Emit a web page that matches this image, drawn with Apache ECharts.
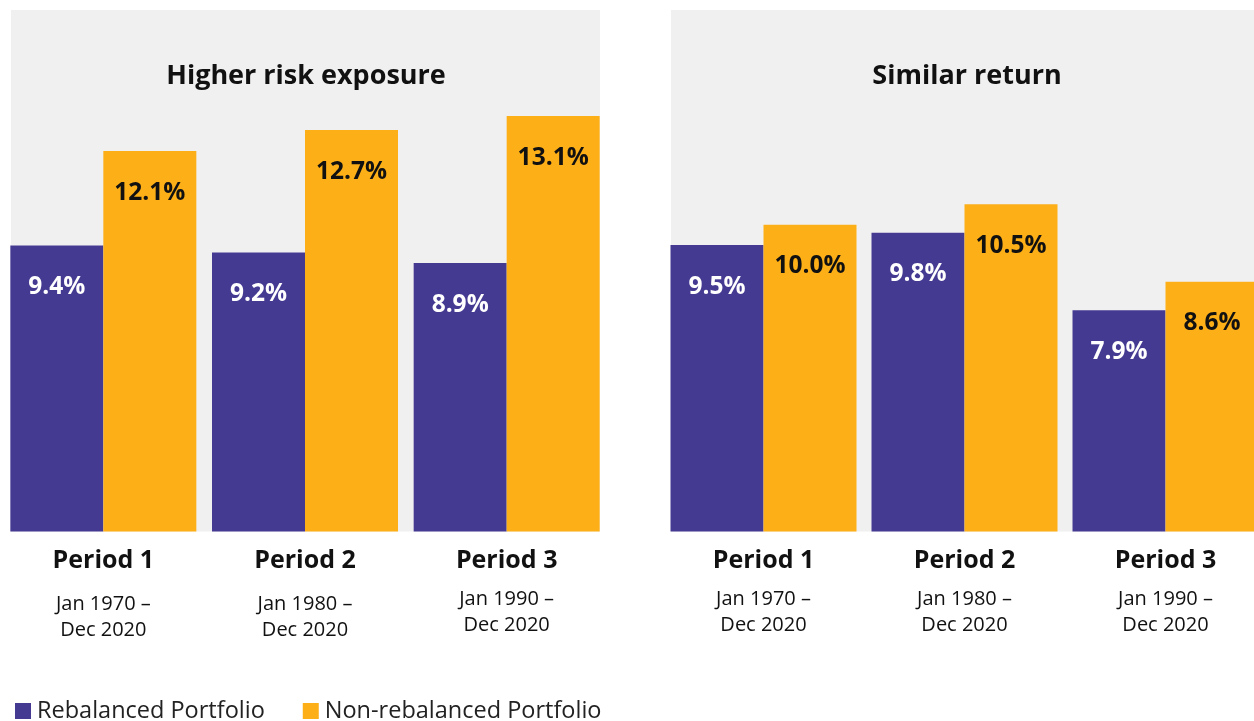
<!DOCTYPE html>
<html>
<head>
<meta charset="utf-8">
<script src="https://cdn.jsdelivr.net/npm/echarts@6/dist/echarts.min.js"></script>
<style>
  html, body { margin: 0; padding: 0; background: #ffffff; overflow: hidden; width: 1254px; height: 721px; }
  #chart { width: 1266px; height: 721px; }
</style>
</head>
<body>
<div id="chart"></div>
<script>
// ---- Data ----
const categories = ['Period 1', 'Period 2', 'Period 3'];
const periodStart = ['Jan 1970 –', 'Jan 1980 –', 'Jan 1990 –'];
const periodEnd = ['Dec 2020', 'Dec 2020', 'Dec 2020'];
const panelTitles = ['Higher risk exposure', 'Similar return'];
const seriesNames = ['Rebalanced Portfolio', 'Non-rebalanced Portfolio'];
const riskRebalanced = [9.4, 9.2, 8.9];
const riskNonRebalanced = [12.1, 12.7, 13.1];
const returnRebalanced = [9.5, 9.8, 7.9];
const returnNonRebalanced = [10.0, 10.5, 8.6];

// ---- Styles ----
const PURPLE = '#443A92';
const ORANGE = '#FDAF18';
const GRAY = '#F0F0F0';
const FONT = '"Open Sans", "Noto Sans", sans-serif';

const chart = echarts.init(document.getElementById('chart'), null, { renderer: 'canvas' });

function axisLabelFor(panel) {
  return {
    interval: 0,
    margin: 9,
    fontFamily: FONT,
    formatter: function (value, index) {
      const gap = (panel === 0 && index < 2) ? 'g2' : 'g';
      return '{b|' + value + '}\n{' + gap + '| }\n{s|' + periodStart[index] + '}\n{s|' + periodEnd[index] + '}';
    },
    rich: {
      b: { fontFamily: FONT, fontSize: 25, fontWeight: 'bold', color: '#111', lineHeight: 40 },
      g: { fontSize: 1, lineHeight: 6 },
      g2: { fontSize: 1, lineHeight: 11 },
      s: { fontFamily: FONT, fontSize: 20, color: '#111', lineHeight: 26 }
    }
  };
}

function barSeries(name, data, color, textColor, gridIdx) {
  return {
    name: name,
    type: 'bar',
    xAxisIndex: gridIdx,
    yAxisIndex: gridIdx,
    data: data,
    barWidth: 93,
    barGap: '0%',
    itemStyle: { color: color },
    label: {
      show: true,
      position: 'insideTop',
      distance: 29,
      color: textColor,
      fontFamily: FONT,
      fontSize: 24.5,
      fontWeight: 'bold',
      formatter: function (p) { return p.value.toFixed(1) + '%'; }
    },
    emphasis: { disabled: true }
  };
}

const option = {
  animation: false,
  backgroundColor: '#ffffff',
  graphic: [
    { type: 'rect', z: -10, shape: { x: 11, y: 10, width: 589, height: 521.5 }, style: { fill: GRAY } },
    { type: 'rect', z: -10, shape: { x: 671, y: 10, width: 600, height: 521.5 }, style: { fill: GRAY } }
  ],
  title: [
    { text: panelTitles[0], left: 306, top: 61, textAlign: 'center', padding: 0,
      textStyle: { fontFamily: FONT, fontSize: 27, fontWeight: 'bold', color: '#111', lineHeight: 30 } },
    { text: panelTitles[1], left: 967, top: 61, textAlign: 'center', padding: 0,
      textStyle: { fontFamily: FONT, fontSize: 27, fontWeight: 'bold', color: '#111', lineHeight: 30 } }
  ],
  legend: {
    left: 15,
    top: 699,
    padding: 0,
    icon: 'rect',
    itemWidth: 16,
    itemHeight: 16,
    itemGap: 38,
    selectedMode: false,
    data: seriesNames,
    textStyle: { fontFamily: FONT, fontSize: 23.5, color: '#222', padding: [0, 0, 0, 1] }
  },
  grid: [
    { left: 2.5, width: 605, top: 10, bottom: 189.5 },
    { left: 663, width: 603, top: 10, bottom: 189.5 }
  ],
  xAxis: [0, 1].map(function (i) {
    return {
      type: 'category',
      gridIndex: i,
      data: categories,
      axisLine: { show: false },
      axisTick: { show: false },
      axisLabel: axisLabelFor(i)
    };
  }),
  yAxis: [
    { type: 'value', gridIndex: 0, min: 1.23, max: 16.13, show: false, splitLine: { show: false } },
    { type: 'value', gridIndex: 1, min: 2.47, max: 15.27, show: false, splitLine: { show: false } }
  ],
  series: [
    barSeries(seriesNames[0], riskRebalanced, PURPLE, '#ffffff', 0),
    barSeries(seriesNames[1], riskNonRebalanced, ORANGE, '#111111', 0),
    barSeries(seriesNames[0], returnRebalanced, PURPLE, '#ffffff', 1),
    barSeries(seriesNames[1], returnNonRebalanced, ORANGE, '#111111', 1)
  ]
};

chart.setOption(option);
</script>
</body>
</html>
